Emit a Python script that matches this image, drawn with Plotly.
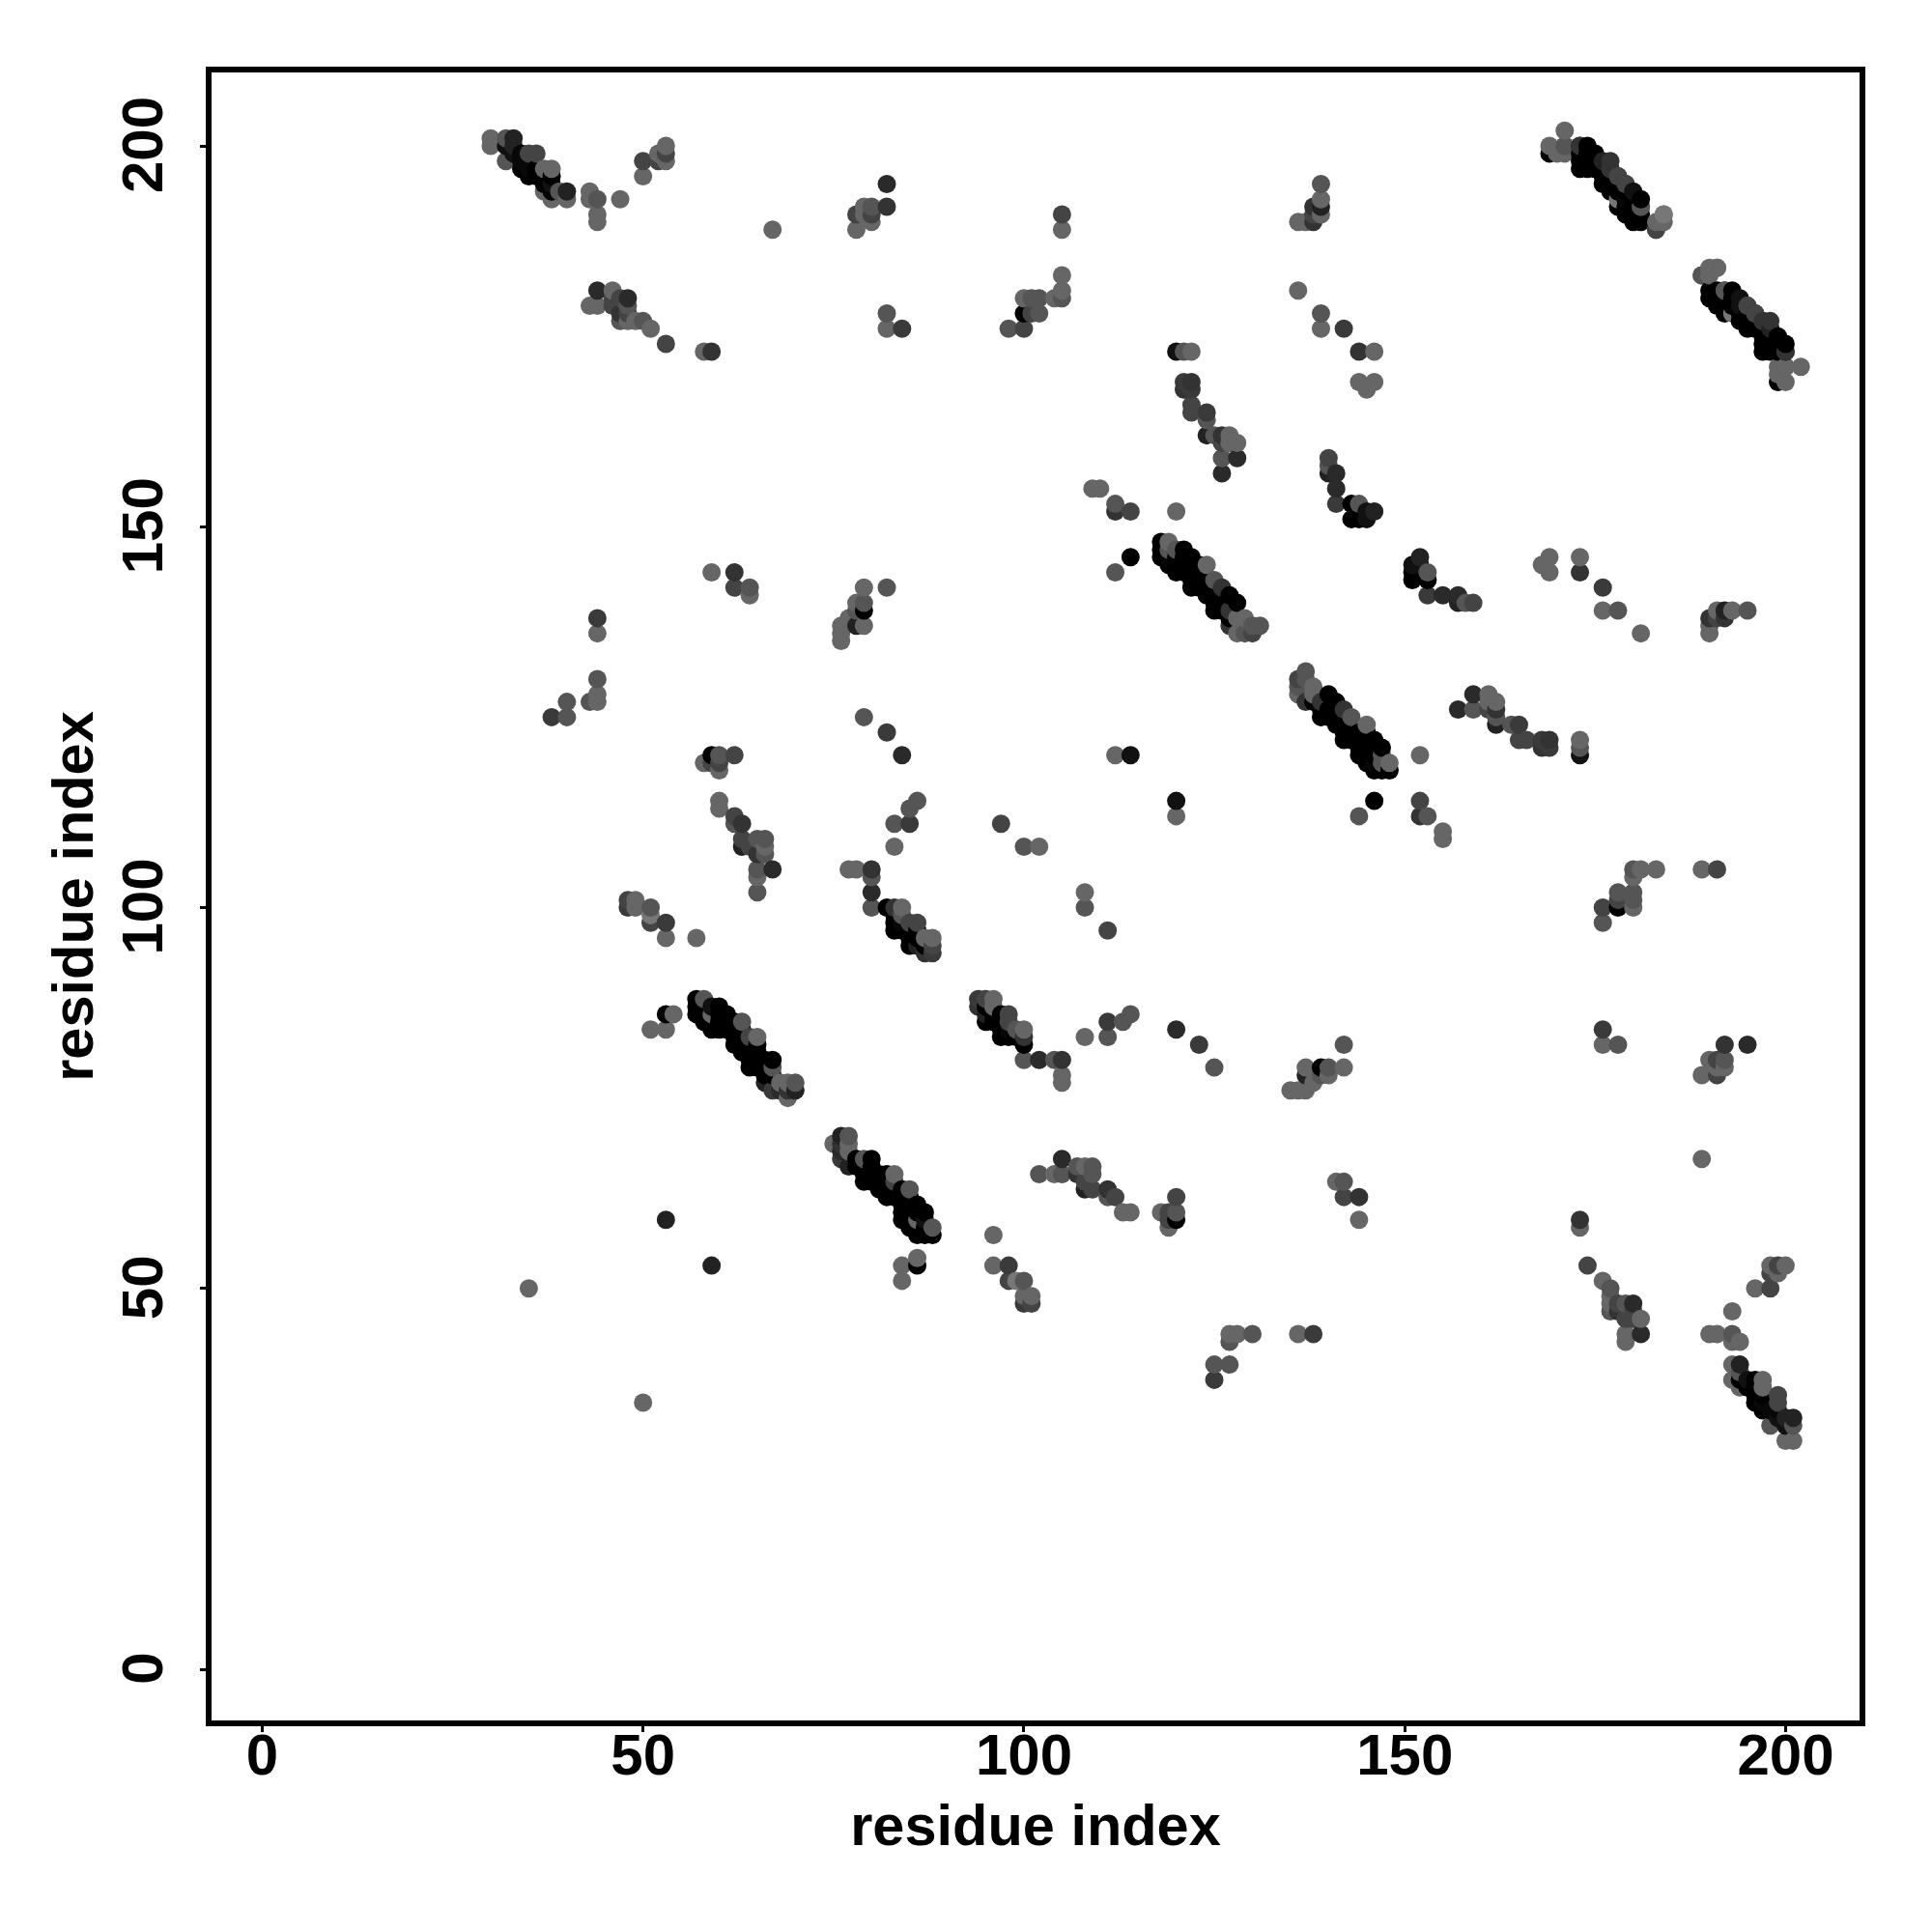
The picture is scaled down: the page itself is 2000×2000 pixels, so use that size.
import plotly.graph_objects as go

residue_i = [
 30,30,32,33,32,32,33,34,33,34,35,35,36,35,36,37,38,38,37,38,40,40,39,38,
 43,43,44,44,44,47,50,50,52,52,53,53,53,67,
 44,43,44,46,46,46,47,47,48,48,47,48,49,50,51,53,58,59,48,
 59,62,62,64,64,44,44,
 82,82,78,78,79,80,80,79,80,
 105,105,105,105,105,104,100,101,102,100,101,102,98,100,82,82,84,
 120,121,122,121,122,121,122,122,122,124,124,124,125,126,127,126,127,128,126,128,126,
 109,110,112,112,114,120,114,112,
 79,82,79,78,79,78,78,79,77,76,76,76,
 139,139,139,138,139,138,138,136,137,136,139,139,142,
 144,146,144,146,145,
 140,140,140,141,141,141,143,144,143,144,145,145,146,
 169,169,171,171,170,171,173,174,173,174,174,176,177,176,177,178,179,178,178,181,181,180,181,180,179,183,183,184,184,
 189,190,191,190,190,191,192,193,192,193,195,196,195,197,198,198,197,198,200,199,200,199,200,202,199,200,199,194,194,
 118,119,118,120,121,121,120,123,124,123,125,126,125,128,127,128,129,130,131,127,128,129,130,122,122,119,118,119,120,121,122,124,126,
 112,114,
 59,60,62,58,59,60,60,
 60,60,62,62,63,63,63,66,65,64,66,65,66,65,67,65,65,
 79,82,84,86,85,83,85,83,97,100,102,
 77,78,80,80,80,80,
 82,83,84,84,83,85,86,85,87,88,87,88,88,86,84,85,86,
 48,48,49,49,51,51,51,53,53,57,
 57,58,57,54,53,51,53,59,60,59,60,62,63,62,63,64,65,64,67,66,67,66,67,68,69,70,69,70,69,57,58,59,60,61,61,62,64,65,66,68,
 53,35,
 44,44,43,44,40,40,38,
 # densely packed helix-pair bands
 58,58,59,60,60,61,61,61,62,62,63,63,63,64,64,64,65,65,65,65,66,66,67,
 119,120,121,122,122,123,123,124,124,125,125,126,126,127,127,
 175,175,175,174,176,176,177,177,178,178,179,179,179,180,180,
 191,191,192,192,193,193,194,194,195,196,196,197,197,198,198,199,
 84,84,85,86,86,87,83,83,
 34,36,37,37,38,36,
]
residue_j = [
 201,200,201,201,200,198,199,198,200,199,196,199,199,197,197,197,197,195,194,193,193,194,194,194,
 194,193,193,191,190,193,196,198,199,198,200,199,198,189,
 181,179,179,181,180,179,180,178,180,179,177,177,177,177,176,174,173,173,178,
 144,144,142,142,141,138,136,
 195,192,189,191,192,192,190,191,191,
 191,189,183,181,180,180,180,180,180,178,178,178,176,176,178,176,176,
 173,173,173,169,169,168,168,166,165,165,164,162,162,162,162,161,161,161,159,159,157,
 155,155,153,152,152,152,146,144,
 142,142,140,140,139,139,137,137,138,137,136,135,
 195,193,192,192,191,191,190,190,190,181,178,176,176,
 173,173,169,169,168,
 159,158,157,157,155,153,153,153,151,151,151,152,152,
 200,199,202,200,199,199,200,200,197,198,199,198,198,195,197,196,195,192,193,193,192,190,190,192,193,189,190,190,191,
 183,184,184,181,180,180,181,181,178,178,179,178,176,177,177,176,173,173,174,174,173,171,171,171,169,169,170,180,179,
 148,148,146,147,147,146,144,144,145,142,143,142,139,140,139,138,138,137,137,137,136,136,136,145,144,147,147,146,146,145,143,143,141,
 120,120,
 120,120,120,119,119,119,118,
 114,113,112,111,111,109,108,109,109,108,108,107,107,105,105,104,102,
 125,123,120,114,113,111,111,108,111,108,108,
 105,105,105,104,102,100,
 100,100,100,99,97,98,98,95,96,96,94,94,95,95,98,97,96,
 101,100,101,100,100,98,99,98,96,96,
 88,88,86,86,86,84,84,86,87,84,85,85,85,82,82,83,83,79,80,80,79,77,76,77,75,77,77,76,76,87,87,87,86,85,84,84,82,81,79,76,
 59,50,
 130,128,127,127,127,125,125,
 86,85,85,86,84,86,85,84,84,83,84,83,81,82,81,80,82,81,80,79,79,78,78,
 145,145,144,146,142,143,145,141,142,141,140,140,139,141,138,
 199,198,197,197,197,196,196,195,195,194,194,192,191,193,191,
 181,179,180,179,180,179,178,177,177,176,177,175,176,175,174,173,
 98,97,96,97,96,95,98,99,
 197,196,196,195,196,197,
]
gray_level = [
 0x66,0x66,0x55,0x22,0x11,0x55,0x11,0x08,0x22,0x08,0x00,0x44,0x44,0x08,0x08,0x66,0x66,0x11,0x66,0x66,0x66,0x22,0x55,0x00,
 0x66,0x66,0x55,0x66,0x66,0x66,0x66,0x44,0x66,0x44,0x66,0x44,0x66,0x66,
 0x2a,0x66,0x66,0x66,0x44,0x44,0x44,0x33,0x2a,0x55,0x55,0x66,0x66,0x55,0x66,0x44,0x66,0x33,0x44,
 0x66,0x33,0x44,0x55,0x66,0x3a,0x66,
 0x2a,0x33,0x66,0x44,0x66,0x55,0x66,0x66,0x44,
 0x44,0x66,0x66,0x66,0x55,0x66,0x66,0x55,0x55,0x00,0x44,0x55,0x55,0x44,0x55,0x66,0x3a,
 0x11,0x55,0x66,0x3a,0x33,0x33,0x3a,0x44,0x44,0x3a,0x55,0x22,0x55,0x33,0x66,0x44,0x66,0x66,0x55,0x2a,0x2a,
 0x66,0x66,0x55,0x33,0x44,0x66,0x00,0x55,
 0x66,0x55,0x55,0x66,0x00,0x55,0x22,0x66,0x66,0x66,0x66,0x66,
 0x55,0x66,0x22,0x33,0x66,0x44,0x33,0x66,0x66,0x66,0x55,0x66,0x3a,
 0x33,0x66,0x66,0x66,0x66,
 0x44,0x55,0x22,0x2a,0x2a,0x3a,0x00,0x55,0x00,0x00,0x11,0x11,0x22,
 0x66,0x00,0x66,0x66,0x66,0x66,0x33,0x00,0x00,0x00,0x00,0x22,0x33,0x00,0x33,0x33,0x33,0x00,0x77,0x00,0x44,0x00,0x00,0x00,0x08,0x55,0x66,0x66,0x77,
 0x44,0x66,0x66,0x00,0x00,0x00,0x55,0x00,0x00,0x77,0x44,0x44,0x00,0x55,0x33,0x22,0x00,0x00,0x00,0x00,0x2a,0x66,0x55,0x66,0x00,0x66,0x66,0x11,0x11,
 0x00,0x66,0x00,0x55,0x00,0x00,0x00,0x00,0x66,0x00,0x55,0x33,0x00,0x00,0x33,0x66,0x66,0x55,0x55,0x33,0x66,0x55,0x44,0x00,0x00,0x55,0x00,0x08,0x00,0x00,0x00,0x00,0x00,
 0x66,0x11,
 0x00,0x55,0x44,0x66,0x44,0x44,0x66,
 0x66,0x66,0x44,0x55,0x33,0x44,0x22,0x55,0x55,0x44,0x66,0x33,0x55,0x55,0x2a,0x66,0x55,
 0x55,0x3a,0x2a,0x55,0x55,0x55,0x3a,0x66,0x44,0x55,0x66,
 0x66,0x66,0x33,0x55,0x2a,0x55,
 0x00,0x33,0x66,0x55,0x00,0x44,0x44,0x00,0x66,0x66,0x33,0x3a,0x44,0x22,0x08,0x00,0x00,
 0x44,0x3a,0x66,0x66,0x55,0x44,0x77,0x3a,0x66,0x66,
 0x00,0x55,0x00,0x66,0x00,0x66,0x66,0x66,0x00,0x00,0x00,0x00,0x55,0x00,0x00,0x44,0x66,0x00,0x00,0x00,0x55,0x22,0x3a,0x66,0x66,0x55,0x66,0x22,0x33,0x00,0x00,0x11,0x00,0x00,0x00,0x00,0x00,0x00,0x00,0x2a,
 0x22,0x66,
 0x55,0x66,0x55,0x66,0x55,0x55,0x3a,
 0,0,0,0,0,0,0,0,0,0,0,0,0,0,0,0,0,0,0,0,0,0,0,
 0,0,0,0,0,0,0,0,0,0,0,0,0,0,0,
 0,0,0,0,0,0,0,0,0,0,0,0,0,0,0,
 0,0,0,0,0,0,0,0,0,0,0,0,0,0,0,0,
 0,0,0,0,0,0,0,0,
 0,0,0,0,0,0,
]
tick_values = [0, 50, 100, 150, 200]
axis_title = "residue index"

assert len(residue_i) == len(residue_j) == len(gray_level)

# The contact map is symmetric: each pair (i, j) also appears as (j, i).
contacts = sorted(set(
    [(i, j, g) for i, j, g in zip(residue_i, residue_j, gray_level)]
    + [(j, i, g) for i, j, g in zip(residue_i, residue_j, gray_level)]
), key=lambda c: (c[0], c[1]))

fig = go.Figure(go.Scatter(
    x=[c[0] for c in contacts],
    y=[c[1] for c in contacts],
    mode="markers",
    marker=dict(size=19, color=[f"rgb({c[2]},{c[2]},{c[2]})" for c in contacts], line=dict(width=0)),
    cliponaxis=False,
))

font = "Liberation Sans"
label_font = dict(family=font, size=60, color="black", weight="bold")
title_font = dict(family=font, size=59.5, color="black", weight="bold")
axis_common = dict(
    tickmode="array", tickvals=tick_values, ticktext=[str(t) for t in tick_values],
    showgrid=False, zeroline=False, showline=True, mirror=True,
    linecolor="black", linewidth=6,
    ticks="outside", ticklen=6, tickwidth=3, tickcolor="black",
    tickfont=label_font,
)
fig.update_xaxes(range=[-6.65, 209.71], ticklabelstandoff=-28,
                 title=dict(text=axis_title, standoff=21, font=title_font),
                 **axis_common)
fig.update_yaxes(range=[-6.72, 209.64], tickangle=-90, ticklabelstandoff=15, ticklabelshift=8,
                 title=dict(text=axis_title, standoff=0, font=title_font),
                 **axis_common)
fig.update_layout(
    width=2000, height=2000, autosize=False,
    margin=dict(l=211, r=83, t=67, b=227, pad=0),
    paper_bgcolor="white", plot_bgcolor="white", showlegend=False,
)
fig.write_html("out.html")
